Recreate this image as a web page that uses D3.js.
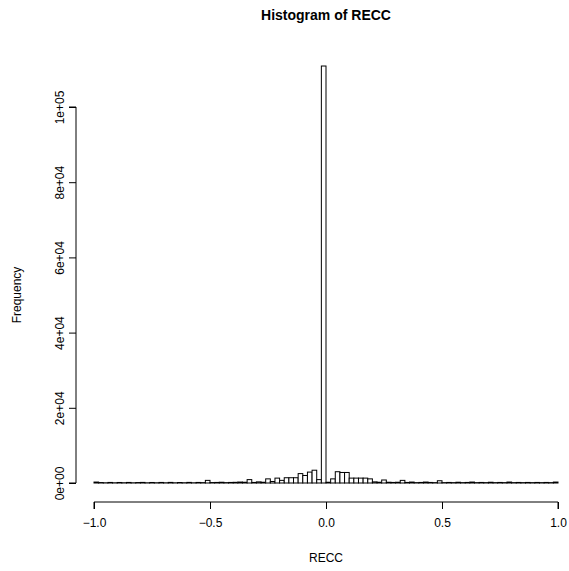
<!DOCTYPE html>
<html>
<head>
<meta charset="utf-8">
<script src="https://cdn.jsdelivr.net/npm/d3@7"></script>
<style>
  html, body { margin: 0; padding: 0; background: #fff; }
  svg { display: block; font-family: "Liberation Sans", Arial, Helvetica, sans-serif; }
</style>
</head>
<body>
<svg id="chart" width="569" height="571"></svg>
<script>
// ---- data ----
const title = "Histogram of RECC";
const xLabel = "RECC";
const yLabel = "Frequency";
const binStart = -1.0;
const binWidth = 0.02;
// 100 bin counts, left (-1.00) to right (1.00)
const counts = [
  250, 120, 60, 150, 60, 140, 70, 150, 60, 120,
  160, 60, 140, 70, 150, 60, 160, 60, 130, 70,
  160, 60, 150, 100, 700, 120, 150, 200, 100, 150,
  180, 250, 200, 900, 150, 300, 200, 1100, 400, 1300,
  700, 1400, 1400, 1400, 2500, 2000, 2900, 3400, 900, 110900,
  200, 1100, 3000, 2800, 2800, 1300, 1300, 1300, 1300, 1100,
  300, 200, 800, 200, 150, 200, 700, 150, 250, 100,
  150, 250, 150, 100, 600, 100, 150, 100, 200, 100,
  150, 250, 100, 150, 100, 200, 100, 150, 100, 250,
  100, 150, 100, 150, 100, 150, 100, 150, 100, 250
];
const xTicks = [-1.0, -0.5, 0.0, 0.5, 1.0];
const xTickLabels = ["\u22121.0", "\u22120.5", "0.0", "0.5", "1.0"];
const yTicks = [0, 20000, 40000, 60000, 80000, 100000];
const yTickLabels = ["0e+00", "2e+04", "4e+04", "6e+04", "8e+04", "1e+05"];

// ---- drawing ----
const svg = d3.select("#chart");
const x = d3.scaleLinear().domain([-1, 1]).range([94, 558]);
const y = d3.scaleLinear().domain([0, 100000]).range([483, 107]);

const bins = counts.map((c, i) => ({ x0: binStart + i * binWidth, x1: binStart + (i + 1) * binWidth, c }));

svg.append("g").selectAll("rect").data(bins).join("rect")
  .attr("x", d => x(d.x0))
  .attr("width", d => x(d.x1) - x(d.x0))
  .attr("y", d => y(d.c))
  .attr("height", d => y(0) - y(d.c))
  .attr("fill", "#fff")
  .attr("stroke", "#000")
  .attr("stroke-width", 1);

// x axis
const xAxisY = 502;
const xa = svg.append("g").attr("transform", `translate(0,${xAxisY})`)
  .call(d3.axisBottom(x).tickValues(xTicks).tickSize(7).tickFormat((d, i) => xTickLabels[i]));
xa.select(".domain").attr("d", `M${x(-1)},7V0H${x(1)}V7`).attr("stroke", "#000");
xa.selectAll(".tick line").attr("stroke", "#000");
xa.selectAll(".tick text").attr("font-size", 12).attr("fill", "#000").attr("dy", null).attr("y", 25);

// y axis
const yAxisX = 76;
const ya = svg.append("g").attr("transform", `translate(${yAxisX},0)`)
  .call(d3.axisLeft(y).tickValues(yTicks).tickSize(7).tickFormat((d, i) => yTickLabels[i]));
ya.select(".domain").attr("d", `M-7,${y(0)}H0V${y(100000)}H-7`).attr("stroke", "#000");
ya.selectAll(".tick line").attr("stroke", "#000");
ya.selectAll(".tick text")
  .attr("font-size", 12).attr("fill", "#000")
  .attr("x", null).attr("dy", null)
  .attr("text-anchor", "middle")
  .attr("transform", "translate(-15,0) rotate(-90)")
  .attr("dominant-baseline", "middle");

// title and labels
svg.append("text").attr("x", 326).attr("y", 20).attr("text-anchor", "middle")
  .attr("font-size", 14).attr("font-weight", "bold").text(title);
svg.append("text").attr("x", 326).attr("y", 562).attr("text-anchor", "middle")
  .attr("font-size", 12).text(xLabel);
svg.append("text").attr("transform", "translate(21,295) rotate(-90)").attr("text-anchor", "middle")
  .attr("font-size", 12).text(yLabel);
</script>
</body>
</html>
